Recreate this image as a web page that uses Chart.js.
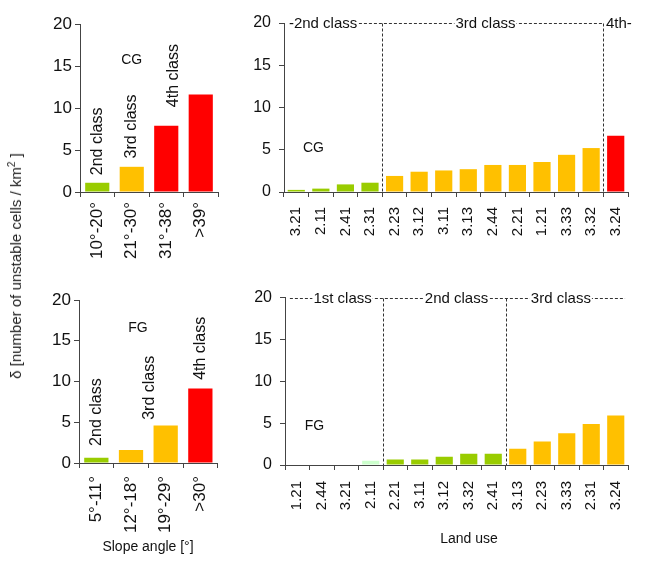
<!DOCTYPE html>
<html>
<head>
<meta charset="utf-8">
<script src="https://cdn.jsdelivr.net/npm/chart.js@4/dist/chart.umd.min.js"></script>
<style>
  body { margin: 0; background: #fff; width: 646px; height: 566px; position: relative; overflow: hidden;
         font-family: "Liberation Sans", Arial, sans-serif; color: #111; }
  canvas { position: absolute; }
  .title { position: absolute; white-space: nowrap; font-size: 14px; }
  #ytitle { left: 15px; top: 266px; font-size: 15px; color: #222; transform: translate(-50%, -50%) rotate(-90deg); }
  #ytitle sup { font-size: 10px; }
</style>
</head>
<body>
<canvas id="cg-slope" width="230" height="280" style="left:0;top:0"></canvas>
<canvas id="cg-land" width="416" height="280" style="left:230px;top:0"></canvas>
<canvas id="fg-slope" width="230" height="286" style="left:0;top:280px"></canvas>
<canvas id="fg-land" width="416" height="286" style="left:230px;top:280px"></canvas>
<div class="title" id="ytitle">δ [number of unstable cells / km<sup>2</sup> ]</div>
<div class="title" style="left:148px;top:546px;transform:translate(-50%,-50%)">Slope angle [°]</div>
<div class="title" style="left:469px;top:538px;transform:translate(-50%,-50%)">Land use</div>
<script>
// Data
const cgSlopeLabels = ['10°-20°', '21°-30°', '31°-38°', '>39°'];
const cgSlopeValues = [1.1, 3.0, 7.9, 11.6];
const cgSlopeClass = [2, 3, 4, 4];

const cgLandLabels = ['3.21', '2.11', '2.41', '2.31', '2.23', '3.12', '3.11', '3.13', '2.44', '2.21', '1.21', '3.33', '3.32', '3.24'];
const cgLandValues = [0.25, 0.4, 0.9, 1.1, 1.9, 2.4, 2.55, 2.7, 3.2, 3.2, 3.55, 4.4, 5.2, 6.65];
const cgLandClass = [2, 2, 2, 2, 3, 3, 3, 3, 3, 3, 3, 3, 3, 4];

const fgSlopeLabels = ['5°-11°', '12°-18°', '19°-29°', '>30°'];
const fgSlopeValues = [0.65, 1.6, 4.6, 9.15];
const fgSlopeClass = [2, 3, 3, 4];

const fgLandLabels = ['1.21', '2.44', '3.21', '2.11', '2.21', '3.11', '3.12', '3.32', '2.41', '3.13', '2.23', '3.33', '2.31', '3.24'];
const fgLandValues = [0, 0, 0, 0.5, 0.67, 0.67, 1.0, 1.35, 1.35, 1.95, 2.8, 3.8, 4.9, 5.9];
const fgLandClass = [1, 1, 1, 1, 2, 2, 2, 2, 2, 3, 3, 3, 3, 3];

const yTicks = [0, 5, 10, 15, 20];

const classColors = { 1: '#ccffcc', 2: '#99cc00', 3: '#ffc000', 4: '#ff0000' };
const FONT = '"Liberation Sans", Arial, sans-serif';
const AXIS = '#444';

/**
 * Annotations: class labels, panel tags, dashed dividers and header line
 */
const extras = {
    id: 'extras',
    afterDatasetsDraw(chart, args, opts) {
        const ctx = chart.ctx;
        const xs = chart.scales.x;
        const ys = chart.scales.y;
        ctx.save();
        ctx.fillStyle = '#111';

        if (opts.header) {
            const yTop = Math.round(ys.getPixelForValue(20)) + 0.5;
            const yBase = ys.getPixelForValue(0);
            ctx.strokeStyle = '#333';
            ctx.lineWidth = 1;
            ctx.setLineDash([3, 2]);
            for (const d of opts.dividers) {
                const x = Math.round(xs.getPixelForValue(d)) + 0.5;
                ctx.beginPath();
                ctx.moveTo(x, yTop);
                ctx.lineTo(x, yBase);
                ctx.stroke();
            }
            ctx.beginPath();
            ctx.moveTo(xs.getPixelForValue(opts.header.from), yTop);
            ctx.lineTo(xs.getPixelForValue(opts.header.to), yTop);
            ctx.stroke();
            ctx.setLineDash([]);

            ctx.font = '15px ' + FONT;
            ctx.textBaseline = 'middle';
            for (const h of opts.header.labels) {
                const w = ctx.measureText(h.text).width;
                let x = xs.getPixelForValue(h.x);
                if (h.align === 'center') x -= w / 2;
                ctx.fillStyle = '#fff';
                ctx.fillRect(x - 1, yTop - 6, w + 2, 12);
                ctx.fillStyle = '#111';
                ctx.textAlign = 'left';
                ctx.fillText(h.text, x, yTop);
            }
        }

        for (const t of opts.texts || []) {
            const px = xs.getPixelForValue(t.x);
            const py = ys.getPixelForValue(t.y);
            ctx.font = t.size + 'px ' + FONT;
            ctx.save();
            ctx.translate(px, py);
            if (t.rotate) {
                ctx.rotate(-Math.PI / 2);
                ctx.textAlign = 'left';
            } else {
                ctx.textAlign = 'center';
            }
            ctx.textBaseline = 'middle';
            ctx.fillText(t.text, 0, 0);
            ctx.restore();
        }
        ctx.restore();
    }
};

/**
 * Build one bar panel
 */
function makePanel(id, labels, values, classes, lay, extraOpts) {
    new Chart(document.getElementById(id), {
        type: 'bar',
        data: {
            labels: labels,
            datasets: [{
                data: values,
                backgroundColor: classes.map(c => classColors[c]),
                borderWidth: 0,
                barPercentage: 0.7,
                categoryPercentage: 1.0,
            }]
        },
        options: {
            responsive: false,
            animation: false,
            devicePixelRatio: 1,
            layout: { padding: { top: lay.top, right: lay.right, left: 0, bottom: 0 } },
            plugins: {
                legend: { display: false },
                tooltip: { enabled: false },
                extras: extraOpts
            },
            scales: {
                x: {
                    afterFit(scale) { scale.height = lay.xHeight; },
                    grid: { drawOnChartArea: false, drawTicks: true, tickLength: 5, color: AXIS, offset: true },
                    border: { display: true, color: AXIS, width: 1 },
                    ticks: {
                        autoSkip: false,
                        minRotation: 90,
                        maxRotation: 90,
                        padding: lay.xPad,
                        color: '#111',
                        font: { family: FONT, size: lay.xFont }
                    }
                },
                y: {
                    min: 0,
                    max: 20,
                    afterFit(scale) { scale.width = lay.yWidth; },
                    afterBuildTicks(scale) { scale.ticks = yTicks.map(v => ({ value: v })); },
                    grid: { drawOnChartArea: false, drawTicks: true, tickLength: 5, color: AXIS },
                    border: { display: true, color: AXIS, width: 1 },
                    ticks: {
                        padding: lay.yPad,
                        color: '#111',
                        font: { family: FONT, size: lay.yFont }
                    }
                }
            }
        },
        plugins: [extras]
    });
}

makePanel('cg-slope', cgSlopeLabels, cgSlopeValues, cgSlopeClass,
    { top: 24, right: 12, xHeight: 88, yWidth: 80, xPad: 5, yPad: 3, xFont: 17, yFont: 17 },
    {
        texts: [
            { text: 'CG', x: 1, y: 15.7, size: 14 },
            { text: '2nd class', x: 0, y: 2.0, size: 16, rotate: true },
            { text: '3rd class', x: 1, y: 4.0, size: 16, rotate: true },
            { text: '4th class', x: 2.2, y: 10.1, size: 16, rotate: true }
        ]
    });

makePanel('cg-land', cgLandLabels, cgLandValues, cgLandClass,
    { top: 23, right: 18, xHeight: 88, yWidth: 54, xPad: 10, yPad: 8, xFont: 15, yFont: 16 },
    {
        dividers: [3.5, 12.5],
        header: {
            from: -0.3, to: 12.5,
            labels: [
                { text: '-2nd class', x: -0.3, align: 'left' },
                { text: '3rd class', x: 7.7, align: 'center' },
                { text: '4th-', x: 12.6, align: 'left' }
            ]
        },
        texts: [{ text: 'CG', x: 0.7, y: 5.2, size: 14 }]
    });

makePanel('fg-slope', fgSlopeLabels, fgSlopeValues, fgSlopeClass,
    { top: 20, right: 10, xHeight: 103, yWidth: 79, xPad: 8, yPad: 3, xFont: 17, yFont: 17 },
    {
        texts: [
            { text: 'FG', x: 1.2, y: 16.5, size: 14 },
            { text: '2nd class', x: 0, y: 2.1, size: 16, rotate: true },
            { text: '3rd class', x: 1.55, y: 5.3, size: 16, rotate: true },
            { text: '4th class', x: 3, y: 10.2, size: 16, rotate: true }
        ]
    });

makePanel('fg-land', fgLandLabels, fgLandValues, fgLandClass,
    { top: 17, right: 18, xHeight: 101, yWidth: 55, xPad: 11, yPad: 8, xFont: 15, yFont: 16 },
    {
        dividers: [3.5, 8.5],
        header: {
            from: -0.3, to: 13.38,
            labels: [
                { text: '1st class', x: 1.85, align: 'center' },
                { text: '2nd class', x: 6.5, align: 'center' },
                { text: '3rd class', x: 10.76, align: 'center' }
            ]
        },
        texts: [{ text: 'FG', x: 0.7, y: 4.6, size: 14 }]
    });
</script>
</body>
</html>
